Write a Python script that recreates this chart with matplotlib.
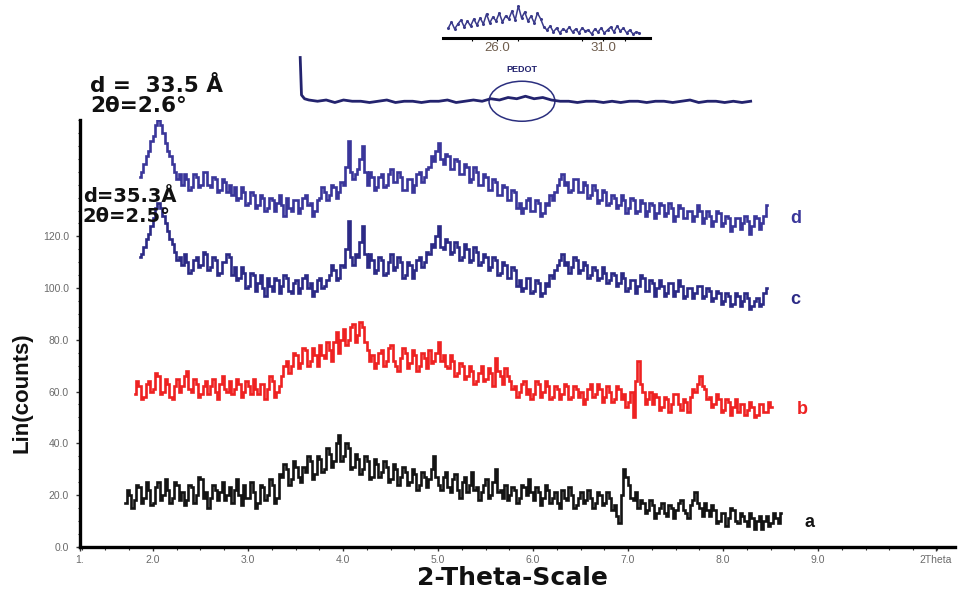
import numpy as np
import matplotlib
matplotlib.use("Agg")
import matplotlib.pyplot as plt
from matplotlib.patches import Ellipse
from matplotlib.ticker import MultipleLocator, FixedLocator

plt.rcParams['font.family'] = ['Liberation Sans', 'DejaVu Sans']

# ---------------- data ----------------
STEP = 0.025

a_x0 = 1.71
a_y = [17, 22, 20, 15, 18, 24, 23, 17, 19, 25, 22, 16, 17, 23, 25, 18, 20, 26, 22, 17,
       19, 25, 24, 18, 21, 16, 18, 24, 23, 17, 20, 27, 26, 19, 21, 15, 19, 24, 22, 18,
       21, 25, 18, 20, 23, 17, 22, 26, 20, 16, 24, 19, 19, 25, 21, 15, 17, 24, 23, 18,
       20, 26, 24, 17, 19, 28, 27, 32, 30, 24, 26, 33, 31, 27, 25, 31, 29, 35, 33, 26,
       28, 35, 34, 29, 30, 38, 36, 31, 33, 40, 43, 33, 35, 40, 38, 30, 31, 36, 34, 28,
       30, 35, 33, 26, 27, 34, 32, 27, 29, 33, 31, 25, 26, 32, 30, 24, 27, 31, 29, 24,
       25, 30, 28, 22, 24, 29, 27, 23, 26, 30, 35, 27, 24, 22, 27, 29, 23, 21, 26, 28,
       22, 19, 25, 27, 21, 24, 29, 22, 23, 18, 21, 24, 26, 19, 20, 25, 30, 21, 22, 19,
       24, 18, 20, 23, 22, 17, 19, 24, 23, 20, 26, 21, 18, 23, 21, 16, 19, 24, 22, 17,
       19, 21, 17, 15, 22, 19, 18, 23, 20, 15, 16, 19, 21, 17, 18, 22, 19, 15, 17, 21,
       20, 16, 17, 21, 19, 14, 16, 12, 9, 20, 30, 27, 24, 19, 18, 21, 15, 18, 17, 13,
       14, 18, 16, 11, 13, 15, 17, 13, 12, 16, 15, 11, 14, 17, 18, 14, 13, 11, 16, 18,
       21, 17, 15, 12, 17, 14, 12, 16, 14, 9, 10, 13, 13, 8, 11, 15, 14, 10, 9, 13,
       12, 10, 8, 13, 11, 7, 10, 12, 7, 10, 12, 8, 9, 13, 11, 9, 13]

b_x0 = 1.81
b_y = [59, 64, 62, 57, 58, 63, 64, 60, 61, 67, 66, 59, 60, 65, 63, 58, 57, 62, 65, 60,
       62, 66, 68, 61, 60, 65, 63, 58, 59, 62, 64, 59, 62, 65, 60, 57, 63, 66, 61, 60,
       64, 59, 61, 65, 63, 58, 60, 64, 62, 59, 65, 61, 59, 63, 63, 57, 61, 66, 64, 58,
       60, 62, 66, 70, 72, 67, 70, 75, 74, 69, 71, 77, 76, 70, 72, 77, 74, 70, 78, 74,
       73, 79, 76, 72, 79, 83, 75, 80, 84, 78, 80, 85, 86, 79, 82, 87, 85, 79, 76, 72,
       74, 69, 71, 75, 76, 70, 72, 77, 78, 72, 70, 68, 73, 77, 75, 69, 71, 76, 74, 68,
       70, 75, 73, 69, 76, 71, 72, 75, 79, 72, 74, 70, 69, 74, 72, 66, 67, 71, 70, 65,
       66, 70, 68, 63, 64, 67, 70, 64, 65, 69, 67, 62, 73, 68, 66, 63, 69, 66, 64, 61,
       62, 58, 60, 63, 64, 59, 61, 57, 59, 64, 63, 58, 60, 64, 62, 57, 58, 62, 61, 57,
       59, 63, 62, 57, 58, 62, 61, 58, 60, 55, 57, 61, 63, 58, 59, 63, 61, 56, 58, 62,
       60, 56, 57, 62, 61, 57, 59, 54, 56, 60, 50, 64, 72, 63, 60, 55, 57, 60, 55, 59,
       58, 53, 54, 58, 57, 52, 55, 59, 59, 55, 53, 57, 56, 52, 58, 61, 60, 63, 66, 62,
       61, 57, 58, 54, 55, 59, 57, 52, 53, 57, 56, 51, 54, 57, 52, 55, 55, 51, 53, 56,
       54, 50, 51, 55, 55, 52, 52, 56, 54]

c_x0 = 1.86
c_y = [112, 113, 116, 119, 121, 124, 127, 131, 133, 131, 128, 125, 122, 119, 117, 114, 111, 112, 109, 113,
       110, 106, 107, 111, 112, 108, 109, 114, 113, 107, 108, 112, 111, 105, 106, 110, 110, 113, 112, 105,
       108, 103, 104, 108, 106, 100, 101, 106, 105, 99, 102, 105, 100, 97, 104, 101, 99, 104, 103, 98,
       101, 105, 104, 99, 98, 102, 103, 98, 100, 104, 105, 100, 102, 97, 99, 103, 104, 100, 101, 103,
       105, 109, 107, 103, 104, 109, 108, 115, 126, 112, 109, 113, 112, 118, 124, 113, 108, 113, 111, 106,
       107, 112, 111, 105, 106, 110, 113, 107, 108, 112, 110, 104, 105, 110, 109, 104, 107, 111, 112, 108,
       110, 114, 113, 117, 116, 120, 124, 116, 115, 119, 118, 113, 114, 118, 116, 111, 112, 117, 115, 110,
       111, 116, 114, 109, 110, 113, 112, 107, 108, 112, 111, 105, 106, 110, 109, 104, 104, 108, 107, 101,
       103, 99, 100, 104, 104, 98, 99, 103, 102, 97, 98, 102, 101, 105, 104, 107, 109, 111, 113, 109,
       110, 106, 108, 112, 111, 106, 107, 110, 109, 104, 105, 108, 107, 103, 104, 108, 106, 102, 103, 106,
       105, 101, 102, 106, 104, 99, 100, 103, 103, 98, 101, 105, 104, 99, 99, 103, 102, 97, 100, 103,
       101, 97, 98, 102, 102, 97, 99, 103, 101, 96, 97, 100, 100, 96, 98, 101, 101, 96, 97, 100,
       99, 95, 96, 99, 98, 94, 95, 98, 97, 93, 94, 98, 97, 93, 95, 98, 96, 92, 93, 95,
       96, 93, 94, 98, 100]

d_x0 = 1.86
d_y = [143, 145, 148, 151, 153, 157, 159, 163, 165, 163, 160, 156, 153, 151, 148, 145, 142, 144, 140, 144,
       142, 138, 139, 144, 143, 139, 140, 145, 145, 140, 139, 143, 142, 137, 138, 142, 141, 137, 140, 136,
       139, 134, 135, 139, 137, 132, 133, 137, 136, 131, 132, 136, 135, 130, 131, 135, 134, 130, 133, 136,
       132, 128, 135, 131, 130, 134, 134, 129, 131, 135, 136, 132, 133, 128, 130, 134, 135, 139, 137, 134,
       136, 140, 139, 135, 137, 141, 140, 147, 157, 145, 142, 144, 146, 150, 155, 145, 140, 145, 143, 138,
       139, 143, 144, 139, 140, 144, 146, 141, 141, 145, 143, 138, 138, 142, 142, 137, 140, 144, 145, 141,
       143, 146, 147, 151, 149, 153, 156, 150, 148, 152, 151, 146, 146, 150, 149, 144, 144, 148, 147, 141,
       142, 147, 145, 140, 140, 144, 143, 138, 138, 142, 141, 136, 136, 140, 139, 134, 134, 138, 137, 131,
       133, 129, 131, 134, 135, 130, 130, 134, 133, 128, 129, 133, 132, 136, 134, 137, 140, 142, 144, 140,
       141, 137, 138, 142, 142, 137, 137, 141, 140, 135, 136, 140, 138, 133, 134, 138, 137, 132, 133, 136,
       135, 131, 132, 136, 134, 129, 131, 135, 134, 129, 130, 134, 133, 128, 130, 133, 132, 127, 129, 133,
       132, 128, 129, 133, 131, 126, 128, 132, 131, 127, 127, 130, 130, 126, 128, 132, 130, 125, 127, 130,
       128, 124, 126, 130, 129, 124, 125, 128, 127, 122, 124, 127, 127, 123, 125, 128, 126, 121, 124, 128,
       127, 123, 125, 128, 132]

series_names = ['a', 'b', 'c', 'd']
series_colors = ['#141414', '#EE2222', '#2C2A86', '#3A369A']

# PEDOT inset (full pattern)
pedot_x = [3.0, 3.15, 3.5] + list(range(4, 56))
pedot_y = [54, 24, 21,
           20, 19, 20, 18, 20, 19, 19, 18, 19, 20,
           18, 19, 19, 18, 19, 19, 20, 18, 19, 20,
           19, 21, 20, 22, 21, 23, 21, 22, 20, 19,
           19, 18, 19, 19, 18, 19, 18, 19, 19, 18,
           19, 19, 18, 19, 20, 18, 19, 19, 18, 19,
           18, 19]

# PEDOT zoomed inset (24-33 deg)
zoom_x0 = 23.7
zoom_step = 0.15
zoom_y = [10, 16, 9, 14, 18, 11, 17, 12, 19, 13,
          20, 14, 24, 15, 21, 17, 25, 16, 22, 19,
          27, 18, 32, 20, 26, 17, 22, 15, 25, 19,
          11, 8, 12, 6, 10, 5, 9, 7, 11, 6,
          9, 5, 10, 7, 8, 4, 9, 6, 10, 5,
          8, 11, 6, 12, 7, 10, 5, 8, 4, 6,
          5]

x_ticks = [2, 3, 4, 5, 6, 7, 8, 9]
x_tick_labels = ['2.0', '3.0', '4.0', '5.0', '6.0', '7.0', '8.0', '9.0']
y_ticks = [0, 20, 40, 60, 80, 100, 120]
y_tick_labels = ['0.0', '20.0', '40.0', '60.0', '80.0', '100.0', '120.0']

# ---------------- figure ----------------
W, H = 960, 591
fig = plt.figure(figsize=(W / 100, H / 100), dpi=100)

def fx(px):
    return px / W

def fy(py):
    return 1 - py / H

XMIN, XMAX = 1.232, 10.44
ax = fig.add_axes([fx(80), fy(546.7), fx(955) - fx(80), fy(120) - fy(546.7)])
ax.set_xlim(XMIN, XMAX)
ax.set_ylim(0, 165)

for name, x0, ys, col in zip(series_names,
                              [a_x0, b_x0, c_x0, d_x0],
                              [a_y, b_y, c_y, d_y],
                              series_colors):
    xs = x0 + STEP * np.arange(len(ys))
    ax.plot(xs, ys, color=col, lw=1.9, drawstyle='steps-mid',
            solid_joinstyle='miter')

for sp in ['top', 'right']:
    ax.spines[sp].set_visible(False)
ax.spines['left'].set_linewidth(2.4)
ax.spines['bottom'].set_linewidth(2.4)

ax.xaxis.set_major_locator(FixedLocator([XMIN] + x_ticks + [10.24]))
ax.set_xticklabels(['1.'] + x_tick_labels + ['2Theta'])
ax.xaxis.set_minor_locator(MultipleLocator(0.25))
ax.yaxis.set_major_locator(FixedLocator(y_ticks))
ax.set_yticklabels(y_tick_labels)
ax.yaxis.set_minor_locator(MultipleLocator(5))
ax.tick_params(axis='both', which='major', direction='out', length=3, width=1,
               labelsize=7.5, labelcolor='#6a6a6a', color='#333333')
ax.tick_params(axis='both', which='minor', direction='out', length=1.8, width=0.8,
               color='#333333')
ax.tick_params(axis='y', which='major', pad=5)
ax.tick_params(axis='x', which='major', pad=3)

# series letters
ax.text(8.71, 127, 'd', color='#3A369A', fontsize=13, fontweight='bold', va='center')
ax.text(8.71, 95.5, 'c', color='#2C2A86', fontsize=13, fontweight='bold', va='center')
ax.text(8.78, 53, 'b', color='#EE2222', fontsize=13, fontweight='bold', va='center')
ax.text(8.86, 9.5, 'a', color='#141414', fontsize=13, fontweight='bold', va='center')

# axis titles
fig.text(fx(22), fy(393), 'Lin(counts)', rotation=90, fontsize=16, fontweight='bold',
         ha='center', va='center', color='#111111')
fig.text(fx(512), fy(578), '2-Theta-Scale', fontsize=18, fontweight='bold',
         ha='center', va='center', color='#111111', family=['DejaVu Sans'])

# annotations
ann = dict(fontweight='bold', color='#111111', ha='left', va='center',
           family=['DejaVu Sans'])
fig.text(fx(90), fy(86), 'd =  33.5 Å', fontsize=15.5, **ann)
fig.text(fx(90), fy(106), '2θ=2.6°', fontsize=15.5, **ann)
fig.text(fx(83), fy(196), 'd=35.3Å', fontsize=14, **ann)
fig.text(fx(83), fy(216), '2θ=2.5°', fontsize=14, **ann)

# PEDOT full-pattern inset
ax_p = fig.add_axes([fx(295), fy(125), fx(755) - fx(295), fy(50) - fy(125)])
ax_p.set_xlim(2.4, 55.5)
ax_p.set_ylim(0, 60)
ax_p.plot(pedot_x, pedot_y, color='#23236E', lw=2.0)
ax_p.axis('off')
ax_p.add_patch(Ellipse((28.6, 19), 7.6, 32, fill=False, edgecolor='#2B2F7F', lw=1.1,
                       clip_on=False))
ax_p.text(28.6, 44, 'PEDOT', fontsize=6.5, fontweight='bold', color='#23236E',
          ha='center', va='center')

# PEDOT zoomed inset
ax_z = fig.add_axes([fx(443), fy(38), fx(650) - fx(443), fy(5) - fy(38)])
ax_z.set_xlim(23.45, 33.2)
ax_z.set_ylim(0, 33)
zx = zoom_x0 + zoom_step * np.arange(len(zoom_y))
ax_z.plot(zx, zoom_y, color='#3A3A8A', lw=1.1, marker='o', ms=1.2)
for sp in ['top', 'right', 'left']:
    ax_z.spines[sp].set_visible(False)
ax_z.spines['bottom'].set_linewidth(2.2)
ax_z.set_yticks([])
ax_z.xaxis.set_major_locator(FixedLocator([26, 31]))
ax_z.set_xticklabels(['26.0', '31.0'])
ax_z.xaxis.set_minor_locator(FixedLocator([24.8, 27.0, 30.0, 32.0]))
ax_z.tick_params(axis='x', which='major', length=2, width=0.8, labelsize=9.5,
                 labelcolor='#6e5c4c', pad=1)
ax_z.tick_params(axis='x', which='minor', length=2, width=0.8)
ax_z.patch.set_alpha(0)

fig.savefig('out.png', dpi=100)
